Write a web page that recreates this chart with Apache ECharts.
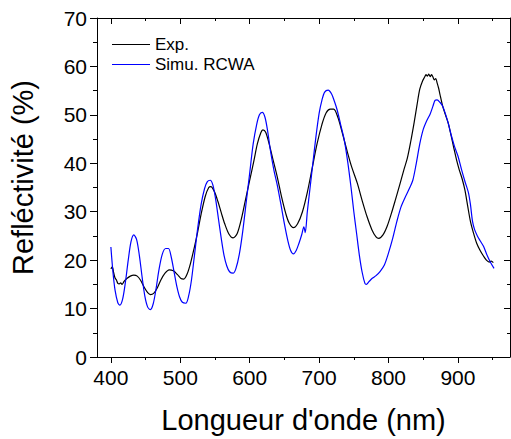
<!DOCTYPE html>
<html>
<head>
<meta charset="utf-8">
<script src="https://cdn.jsdelivr.net/npm/echarts@6/dist/echarts.min.js"></script>
<style>
html,body{margin:0;padding:0;background:#fff;}
#chart{width:511px;height:439px;}
</style>
</head>
<body>
<div id="chart"></div>
<script>
// ---- data (wavelength nm, reflectivity %) ----
const seriesNames = ["Exp.", "Simu. RCWA"];
const seriesColors = ["#000000", "#0000ff"];
const xMajorTicks = [400, 500, 600, 700, 800, 900];
const xMinorTicks = [450, 550, 650, 750, 850, 950];
const yTicks = [0, 10, 20, 30, 40, 50, 60, 70];
const xTitle = "Longueur d'onde (nm)";
const yTitle = "Refléctivité (%)";

const expData = [
  [400,18.2],[402,18.6],[404,17.4],[406,16.3],[408,15.9],[410,15.2],[412,15.1],[414,15.3],[416,15.0],
  [419,15.6],[423,16.2],[428,16.7],[433,16.9],[438,16.7],[443,15.8],[448,14.4],[453,13.3],[457,12.9],
  [462,13.2],[467,14.3],[472,15.9],[478,17.3],[484,18.0],[490,17.8],[496,17.0],[501,16.2],[505,16.1],
  [510,17.2],[515,19.5],[520,22.5],[525,25.8],[530,29.5],[536,33.2],[541,35.0],[544,35.2],[549,34.2],
  [554,32.2],[559,29.8],[564,27.5],[570,25.4],[576,24.6],[582,25.5],[588,28.5],[594,32.5],[600,36.5],
  [606,40.5],[611,44.0],[616,46.3],[619,46.9],[623,46.4],[628,44.0],[634,40.5],[640,37.0],[646,33.0],
  [652,29.6],[657,27.6],[663,26.7],[669,27.5],[676,30.0],[683,34.0],[690,39.0],[697,44.0],[704,48.0],
  [710,50.4],[716,51.2],[721,51.2],[727,49.5],[733,46.5],[740,42.7],[747,39.2],[755,35.9],[762,32.3],
  [769,29.0],[776,26.3],[782,24.8],[786,24.5],[792,25.2],[798,27.0],[804,29.6],[810,32.5],[816,35.5],
  [822,38.6],[827,41.0],[832,44.5],[837,48.5],[841,52.0],[845,55.3],[849,57.0],[852,57.8],[854,58.3],
  [856,58.0],[858,58.4],[860,57.9],[862,58.3],[864,57.8],[866,57.2],[868,57.5],[870,56.6],[872,55.6],
  [874,54.3],[878,51.8],[882,50.0],[886,48.3],[890,45.8],[894,43.2],[898,40.7],[902,38.6],[906,36.8],
  [910,34.5],[914,31.2],[918,28.0],[922,25.8],[927,23.5],[932,22.0],[937,20.8],[941,20.0],[945,19.6],
  [948,19.8],[951,19.5]
];

const simData = [
  [400,22.7],[403,17.5],[406,13.8],[410,11.2],[413,10.7],[417,12.0],[421,15.5],[425,20.0],[429,23.8],
  [433,25.2],[437,24.3],[441,21.0],[445,16.5],[449,12.5],[453,10.3],[457,9.8],[461,11.0],[465,14.0],
  [469,17.8],[474,21.2],[479,22.4],[483,22.4],[487,20.6],[491,17.6],[495,14.6],[499,12.4],[503,11.3],
  [508,11.1],[512,12.6],[516,15.8],[520,20.5],[525,26.5],[530,31.5],[535,34.8],[539,36.2],[543,36.5],
  [547,35.5],[551,32.5],[555,28.5],[559,24.5],[563,21.0],[567,18.8],[571,17.6],[576,17.3],[580,18.2],
  [585,21.2],[590,26.0],[595,32.0],[600,38.0],[605,44.0],[610,48.0],[614,50.0],[618,50.5],[622,49.5],
  [626,46.5],[630,42.5],[635,38.5],[640,35.3],[645,31.5],[650,27.5],[655,24.0],[659,22.0],[663,21.3],
  [667,22.0],[671,23.5],[675,25.3],[678,26.9],[680,25.7],[683,30.0],[687,35.0],[691,40.0],[695,45.0],
  [700,50.3],[704,53.0],[708,54.7],[713,55.1],[718,54.3],[722,52.8],[726,51.0],[731,48.0],[736,45.0],
  [741,40.5],[746,35.0],[750,30.0],[754,25.5],[758,21.0],[762,17.5],[766,15.2],[768,15.0],[772,15.6],
  [777,16.3],[782,16.8],[788,17.7],[794,19.0],[800,21.5],[806,24.5],[812,28.0],[818,31.0],[824,33.0],
  [830,34.8],[835,36.5],[840,40.0],[845,44.0],[850,47.0],[855,48.8],[860,50.2],[864,51.8],[867,53.0],
  [870,53.1],[874,52.6],[878,51.8],[882,50.2],[886,48.3],[890,46.0],[895,43.5],[900,41.5],[905,38.8],
  [910,36.3],[915,34.0],[918,31.5],[921,28.0],[924,26.3],[928,25.0],[932,24.0],[937,22.8],[942,21.0],
  [947,19.5],[952,18.3]
];

const FONT = "'Liberation Sans', Arial, sans-serif";
const chart = echarts.init(document.getElementById('chart'), null, {renderer: 'svg'});

const lineStyleAxis = {color: '#000', width: 1};
function xAx(position, showLine, ticks, len, inside, labels) {
  return {
    type: 'value', min: 380, max: 975, position: position,
    axisLine: {show: showLine, onZero: false, lineStyle: lineStyleAxis},
    axisTick: {show: true, inside: inside, length: len, customValues: ticks, lineStyle: lineStyleAxis},
    axisLabel: labels ? {show: true, customValues: xMajorTicks, fontSize: 21, color: '#000', fontFamily: FONT, margin: 10}
                      : {show: false},
    splitLine: {show: false}
  };
}

const option = {
  animation: false,
  backgroundColor: '#fff',
  color: seriesColors,
  grid: {left: 96, right: 1, top: 18, bottom: 82, containLabel: false},
  legend: {
    orient: 'vertical', left: 112, top: 36, padding: 0, itemWidth: 38, itemHeight: 12, itemGap: 3,
    icon: 'path://M0,5.4H38V6.6H0Z',
    data: seriesNames.map((n, i) => ({
      name: n,
      itemStyle: {color: seriesColors[i], borderWidth: 0},
      lineStyle: {color: seriesColors[i]}
    })),
    textStyle: {fontSize: 17, color: '#000', fontFamily: FONT}
  },
  xAxis: [
    Object.assign(xAx('bottom', true, xMajorTicks, 6, false, true), {
      name: xTitle, nameLocation: 'middle', nameGap: 48,
      nameTextStyle: {fontSize: 29, color: '#000', fontFamily: FONT}
    }),
    xAx('bottom', false, xMinorTicks, 3, false, false),
    xAx('top', true, xMajorTicks, 6, true, false),
    xAx('top', false, xMinorTicks, 3, true, false)
  ],
  yAxis: [
    {
      type: 'value', min: 0, max: 70, interval: 10, position: 'left',
      name: yTitle, nameLocation: 'middle', nameGap: 60,
      nameTextStyle: {fontSize: 29, color: '#000', fontFamily: FONT, padding: [0, 0, 0, 20]},
      axisLine: {show: true, onZero: false, lineStyle: lineStyleAxis},
      axisTick: {show: true, inside: false, length: 7, lineStyle: lineStyleAxis},
      minorTick: {show: true, splitNumber: 2, length: 4, lineStyle: lineStyleAxis},
      axisLabel: {fontSize: 21, color: '#000', fontFamily: FONT, margin: 10},
      splitLine: {show: false}, minorSplitLine: {show: false}
    },
    {
      type: 'value', min: 0, max: 70, interval: 10, position: 'right',
      axisLine: {show: true, onZero: false, lineStyle: lineStyleAxis},
      axisTick: {show: true, inside: true, length: 6, lineStyle: lineStyleAxis},
      minorTick: {show: true, splitNumber: 2, length: 3, lineStyle: lineStyleAxis},
      axisLabel: {show: false},
      splitLine: {show: false}, minorSplitLine: {show: false}
    }
  ],
  series: seriesNames.map((n, i) => ({
    name: n, type: 'line', data: i === 0 ? expData : simData, xAxisIndex: 0, yAxisIndex: 0,
    symbol: 'none', smooth: 0.3,
    itemStyle: {color: seriesColors[i]},
    lineStyle: {color: seriesColors[i], width: 1.2}
  }))
};
chart.setOption(option);
</script>
</body>
</html>
